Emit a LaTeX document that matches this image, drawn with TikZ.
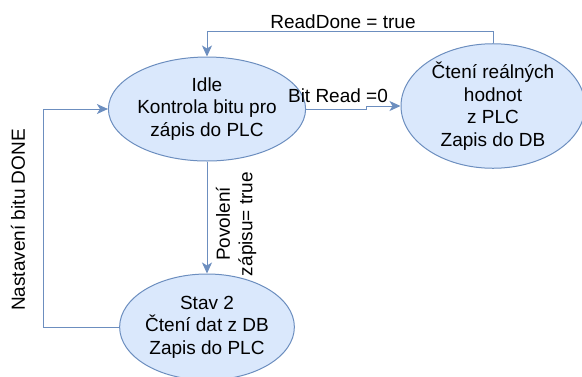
\documentclass[tikz,border=0pt]{standalone}
\usepackage{fontspec}
\setmainfont{Liberation Sans}
\usetikzlibrary{shapes.geometric,arrows.meta}
\definecolor{stroke}{HTML}{6C8EBF}
\definecolor{fillc}{HTML}{DAE8FC}
\tikzset{
  x=1pt, y=-1pt,
  txt/.style={font=\fontsize{19}{22.5}\selectfont, text=black, align=center, inner sep=0pt},
  state/.style={ellipse, draw=stroke, fill=fillc, line width=1pt, txt},
  conn/.style={draw=stroke, line width=1pt},
  arr/.style={conn, -{Stealth[length=11pt,width=10pt,inset=3pt]}}
}
\begin{document}
\begin{tikzpicture}
\useasboundingbox (0,0) rectangle (582,376);
\node[state, minimum width=156pt, minimum height=104pt] (idle) at (207,109) {Idle\\Kontrola bitu pro\\zápis do PLC};
\node[state, minimum width=184pt, minimum height=98pt] (read) at (493,106) {Čtení reálných\\hodnot\\z PLC\\Zapis do DB};
\node[state, minimum width=156pt, minimum height=106pt] (stav) at (207,327) {Stav 2\\Čtení dat z DB\\Zapis do PLC};
\coordinate (top) at (0,31);
\coordinate (left) at (43,0);
\draw[arr] (idle.east) -- ++(60,0) |- (read.west);
\draw[arr] (read.north) |- (top -| idle.north) -- (idle.north);
\draw[arr] (idle.south) -- (stav.north);
\draw[arr] (stav.west) -- (stav.west -| left) |- (idle.west);
\node[txt] (l1) at (343,22) {ReadDone = true};
\node[txt] (l2) at (338,96) {Bit Read =0};
\node[txt, rotate=90] (l3) at (236,224) {Povolení\\zápisu= true};
\node[txt, rotate=90] (l4) at (18,220) {Nastavení bitu DONE};
\end{tikzpicture}
\end{document}
